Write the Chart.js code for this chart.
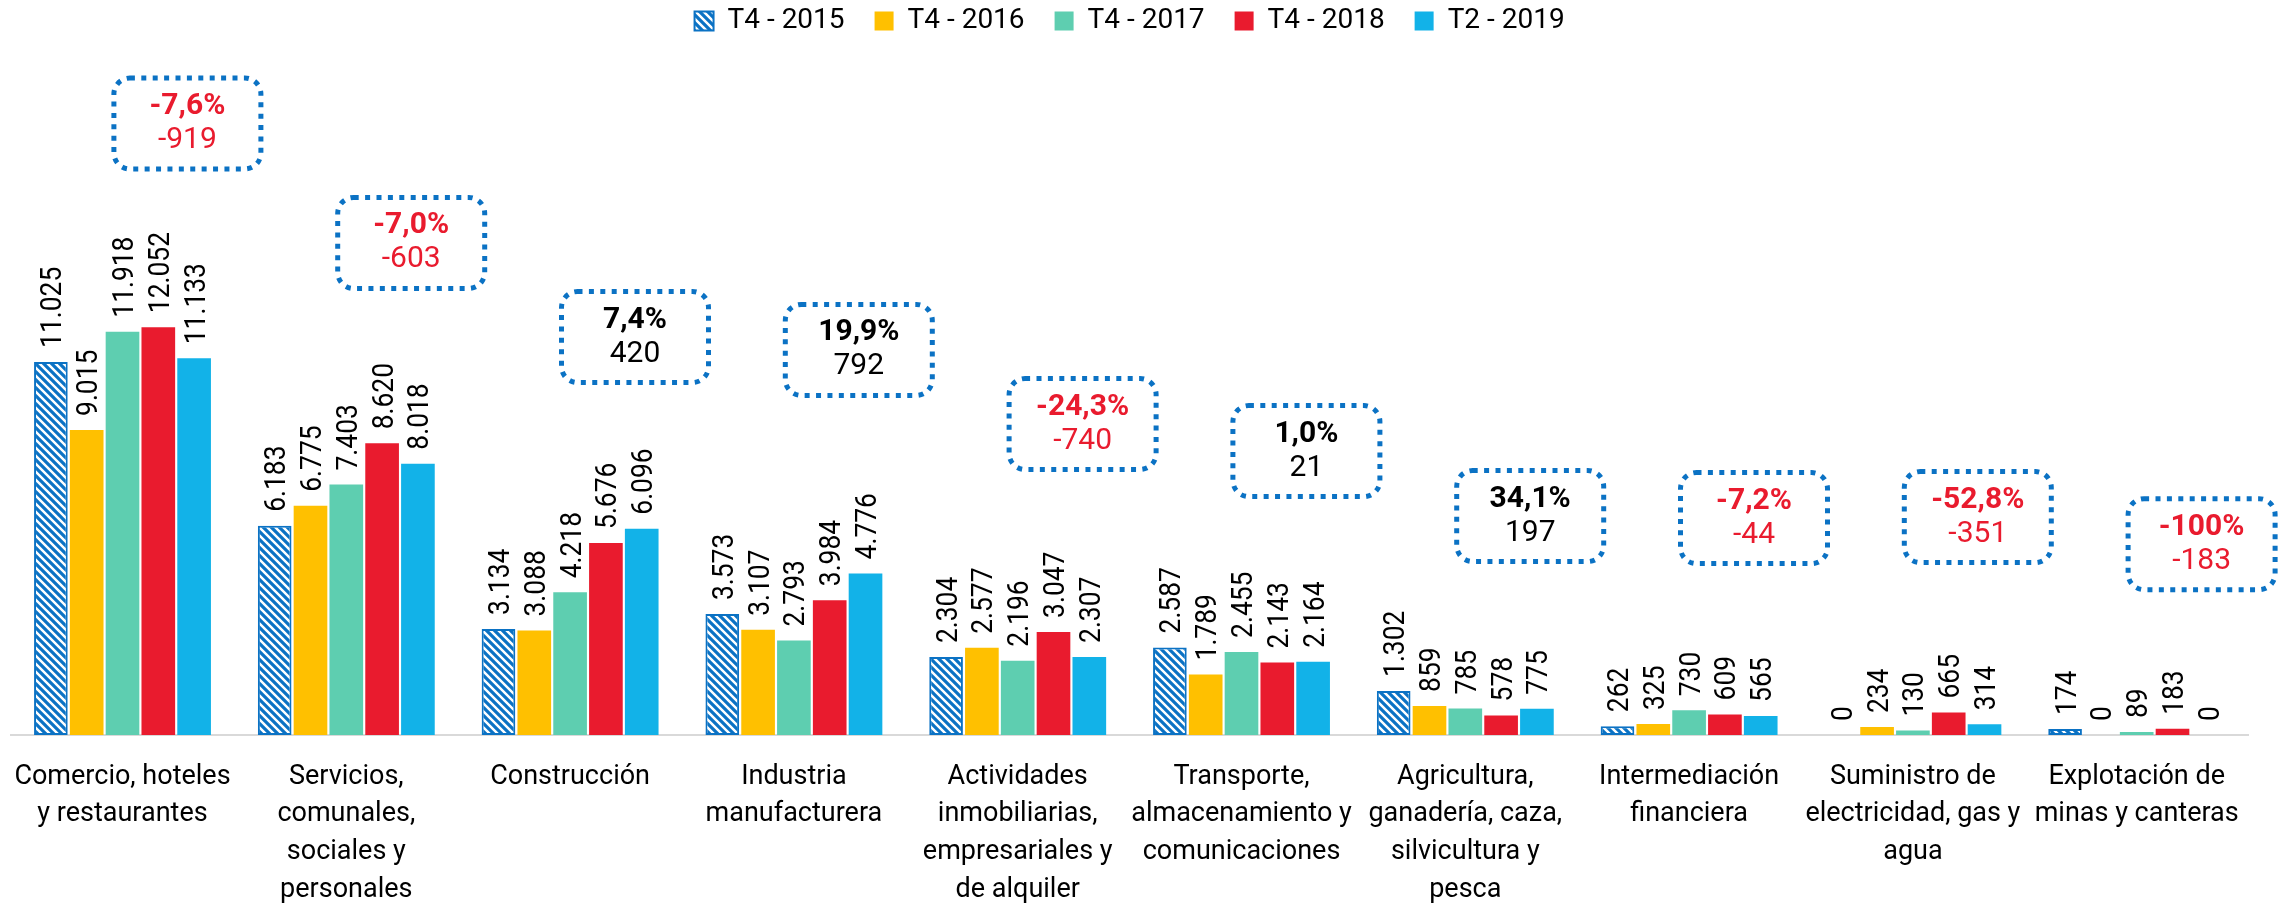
<!DOCTYPE html>
<html lang="es">
<head>
<meta charset="utf-8">
<title>Ocupados por rama de actividad</title>
<script src="https://cdn.jsdelivr.net/npm/chart.js@4.4.1/dist/chart.umd.min.js"></script>
<style>
  html, body { margin: 0; padding: 0; background: #fff; }
  #wrap { width: 2290px; height: 912px; }
</style>
</head>
<body>
<div id="wrap"><canvas id="ramas" width="2290" height="912"></canvas></div>
<script>
// ramas de actividad (one array per multi-line label)
const categories = [
    ['Comercio, hoteles', 'y restaurantes'],
    ['Servicios,', 'comunales,', 'sociales y', 'personales'],
    ['Construcción'],
    ['Industria', 'manufacturera'],
    ['Actividades', 'inmobiliarias,', 'empresariales y', 'de alquiler'],
    ['Transporte,', 'almacenamiento y', 'comunicaciones'],
    ['Agricultura,', 'ganadería, caza,', 'silvicultura y', 'pesca'],
    ['Intermediación', 'financiera'],
    ['Suministro de', 'electricidad, gas y', 'agua'],
    ['Explotación de', 'minas y canteras']
];

const seriesNames = ['T4 - 2015', 'T4 - 2016', 'T4 - 2017', 'T4 - 2018', 'T2 - 2019'];

const t4_2015 = [11025, 6183, 3134, 3573, 2304, 2587, 1302, 262, 0, 174];
const t4_2016 = [9015, 6775, 3088, 3107, 2577, 1789, 859, 325, 234, 0];
const t4_2017 = [11918, 7403, 4218, 2793, 2196, 2455, 785, 730, 130, 89];
const t4_2018 = [12052, 8620, 5676, 3984, 3047, 2143, 578, 609, 665, 183];
const t2_2019 = [11133, 8018, 6096, 4776, 2307, 2164, 775, 565, 314, 0];

// variación T2-2019 vs T4-2018
const changePct = [-7.6, -7.0, 7.4, 19.9, -24.3, 1.0, 34.1, -7.2, -52.8, -100];
const changeAbs = [-919, -603, 420, 792, -740, 21, 197, -44, -351, -183];

// height (in chart units) where each change box is centred
const calloutLevel = [18070, 14540, 11760, 11380, 9190, 8390, 6470, 6410, 6440, 5640];

const RED = '#E91B2E';
const HATCH_BLUE = '#0B72C4';

const fmtThousands = v => String(v).replace(/\B(?=(\d{3})+(?!\d))/g, '.');
const fmtPct = v => (Math.abs(v) >= 100 ? v.toFixed(0) : v.toFixed(1)).replace('.', ',') + '%';

function hatchPattern(color) {
    const c = document.createElement('canvas');
    c.width = 8;
    c.height = 8;
    const g = c.getContext('2d');
    g.fillStyle = '#fff';
    g.fillRect(0, 0, 8, 8);
    g.strokeStyle = color;
    g.lineWidth = 3.2;
    g.beginPath();
    [-8, 0, 8].forEach(k => {
        g.moveTo(k - 2, -2);
        g.lineTo(k + 10, 10);
    });
    g.stroke();
    return g.createPattern(c, 'repeat');
}

// rotated value above every bar
const valueLabels = {
    id: 'valueLabels',
    afterDatasetsDraw(chart) {
        const ctx = chart.ctx;
        ctx.save();
        ctx.font = '30px Roboto';
        ctx.fillStyle = '#000';
        ctx.textAlign = 'left';
        ctx.textBaseline = 'alphabetic';
        chart.data.datasets.forEach((ds, di) => {
            chart.getDatasetMeta(di).data.forEach((bar, i) => {
                ctx.save();
                ctx.translate(bar.x, bar.y - 14);
                ctx.rotate(-Math.PI / 2);
                ctx.scale(0.88, 1);
                ctx.fillText(fmtThousands(ds.data[i]), 0, 10.5);
                ctx.restore();
            });
        });
        ctx.restore();
    }
};

// dotted boxes with the change between the last two periods
const changeCallouts = {
    id: 'changeCallouts',
    afterDraw(chart) {
        const ctx = chart.ctx;
        const xs = chart.scales.x;
        const ys = chart.scales.y;
        const step = xs.width / categories.length;
        const w = 147, h = 91;
        ctx.save();
        categories.forEach((_, i) => {
            const cx = xs.getPixelForValue(i) + 0.29 * step;
            const cy = ys.getPixelForValue(calloutLevel[i]);

            ctx.beginPath();
            ctx.roundRect(cx - w / 2, cy - h / 2, w, h, 16);
            ctx.lineWidth = 5;
            ctx.setLineDash([5, 6.4]);
            ctx.strokeStyle = HATCH_BLUE;
            ctx.stroke();
            ctx.setLineDash([]);

            ctx.fillStyle = changeAbs[i] < 0 ? RED : '#000';
            ctx.textAlign = 'center';
            ctx.textBaseline = 'middle';
            ctx.font = 'bold 30px Roboto';
            ctx.fillText(fmtPct(changePct[i]), cx, cy - 17);
            ctx.font = '30px Roboto';
            ctx.fillText(String(changeAbs[i]), cx, cy + 17);
        });
        ctx.restore();
    }
};

Chart.defaults.font.family = 'Roboto';
Chart.defaults.color = '#000';

const ctx = document.getElementById('ramas').getContext('2d');

new Chart(ctx, {
    type: 'bar',
    data: {
        labels: categories,
        datasets: [
            {
                label: seriesNames[0],
                data: t4_2015,
                backgroundColor: hatchPattern(HATCH_BLUE),
                borderColor: HATCH_BLUE,
                borderWidth: 2,
                borderSkipped: false
            },
            { label: seriesNames[1], data: t4_2016, backgroundColor: '#FFC000', borderWidth: 0 },
            { label: seriesNames[2], data: t4_2017, backgroundColor: '#5ECEB0', borderWidth: 0 },
            { label: seriesNames[3], data: t4_2018, backgroundColor: RED, borderWidth: 0 },
            { label: seriesNames[4], data: t2_2019, backgroundColor: '#12B2E8', borderWidth: 0 }
        ]
    },
    options: {
        responsive: false,
        animation: false,
        categoryPercentage: 0.8,
        barPercentage: 0.94,
        layout: {
            padding: { top: -23, left: 10.6, right: 41.4, bottom: 0 }
        },
        scales: {
            x: {
                grid: { display: false, drawTicks: false },
                border: { display: true, color: '#D9D9D9', width: 2 },
                ticks: {
                    font: { size: 27, lineHeight: 1.4 },
                    color: '#000',
                    padding: 23,
                    autoSkip: false,
                    minRotation: 0,
                    maxRotation: 0
                },
                afterFit(scale) {
                    // fixed label band, no extra side padding for wide labels
                    scale.height = 177;
                    scale.paddingLeft = 0;
                    scale.paddingRight = 0;
                }
            },
            y: {
                display: false,
                min: 0,
                max: 20390
            }
        },
        plugins: {
            legend: {
                position: 'top',
                labels: {
                    font: { size: 28 },
                    color: '#000',
                    boxWidth: 19,
                    boxHeight: 19,
                    padding: 30
                }
            },
            tooltip: { enabled: false }
        }
    },
    plugins: [valueLabels, changeCallouts]
});
</script>
</body>
</html>
